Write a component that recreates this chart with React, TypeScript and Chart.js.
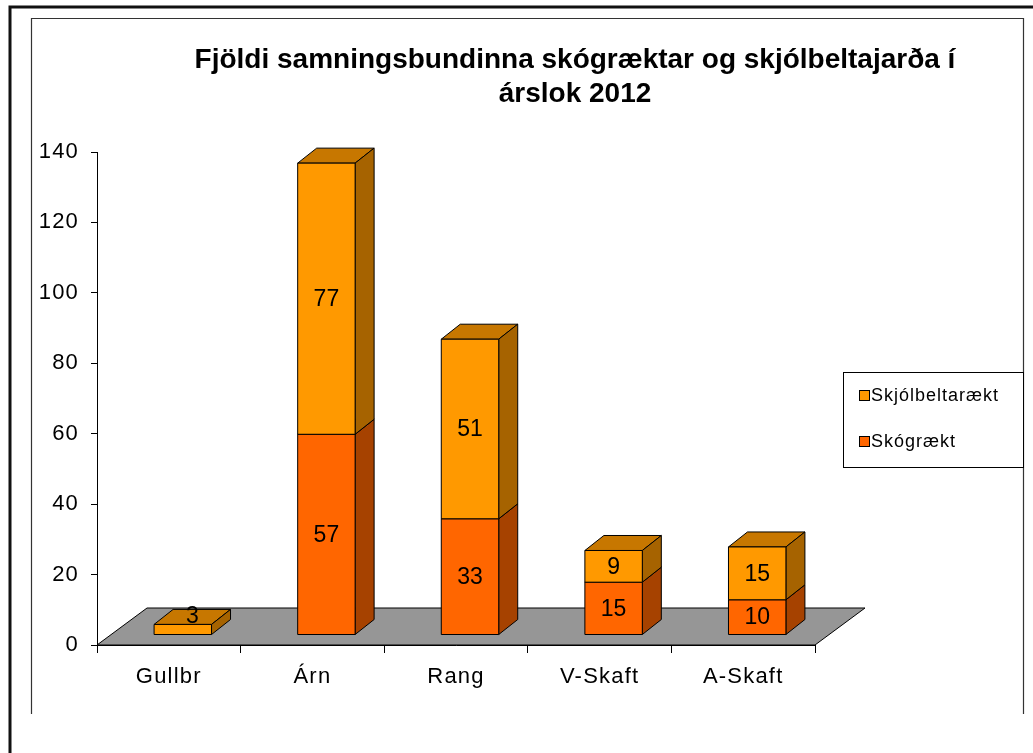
import React, { useEffect, useRef } from "react";
import { Chart, registerables } from "chart.js";

Chart.register(...registerables);

const categories = ["Gullbr", "Árn", "Rang", "V-Skaft", "A-Skaft"];
const seriesNames = ["Skógrækt", "Skjólbeltarækt"];
const skograektValues = [0, 57, 33, 15, 10];
const skjolbeltaValues = [3, 77, 51, 9, 15];
const yTickValues = [0, 20, 40, 60, 80, 100, 120, 140];
const titleLines = [
  "Fjöldi samningsbundinna skógræktar og skjólbeltajarða í",
  "árslok 2012",
];

const FONT = "'Liberation Sans', Arial, sans-serif";
const FRONT = ["#FF6600", "#FF9900"];
const SIDE = ["#A64200", "#A66300"];
const TOP = ["#C75200", "#C77700"];

// projection constants (pixels)
const SHIFT_X = 14;
const SHIFT_Y = -10;
const BAR_DX = 19;
const BAR_DY = -15;
const FLOOR_DX = 50;
const FLOOR_DY = -37;

const W = 1033;
const H = 753;

function poly(ctx: CanvasRenderingContext2D, pts: number[][], fill: string) {
  ctx.beginPath();
  ctx.moveTo(pts[0][0], pts[0][1]);
  for (let i = 1; i < pts.length; i++) ctx.lineTo(pts[i][0], pts[i][1]);
  ctx.closePath();
  ctx.fillStyle = fill;
  ctx.fill();
  ctx.stroke();
}

const threeD = {
  id: "threeD",
  beforeDraw(chart: any) {
    const ctx: CanvasRenderingContext2D = chart.ctx;
    ctx.save();
    ctx.fillStyle = "#ffffff";
    ctx.fillRect(0, 0, W, H);
    // outer frame
    ctx.strokeStyle = "#111";
    ctx.lineWidth = 3;
    ctx.beginPath();
    ctx.moveTo(10, H);
    ctx.lineTo(10, 7);
    ctx.lineTo(W, 7);
    ctx.stroke();
    // inner frame
    ctx.strokeStyle = "#333";
    ctx.lineWidth = 1.2;
    ctx.beginPath();
    ctx.moveTo(31.5, 714);
    ctx.lineTo(31.5, 18.5);
    ctx.lineTo(1023.5, 18.5);
    ctx.lineTo(1023.5, 714);
    ctx.stroke();
    ctx.restore();
    (ctx as any).letterSpacing = "1.2px";
  },
  beforeDatasetsDraw(chart: any) {
    const ctx: CanvasRenderingContext2D = chart.ctx;
    const xs = chart.scales.x;
    const ys = chart.scales.y;
    const y0 = ys.getPixelForValue(0);
    ctx.save();
    ctx.strokeStyle = "#000";
    ctx.lineWidth = 1;
    poly(
      ctx,
      [
        [xs.left, y0],
        [xs.left + FLOOR_DX, y0 + FLOOR_DY],
        [xs.right + FLOOR_DX, y0 + FLOOR_DY],
        [xs.right, y0],
      ],
      "#969696"
    );
    ctx.restore();
  },
  afterDatasetsDraw(chart: any) {
    const ctx: CanvasRenderingContext2D = chart.ctx;
    ctx.save();
    ctx.strokeStyle = "#000";
    ctx.lineWidth = 1;
    ctx.lineJoin = "round";
    const labels: { x: number; y: number; t: string }[] = [];
    for (let i = 0; i < categories.length; i++) {
      for (let d = 0; d < 2; d++) {
        const meta = chart.getDatasetMeta(d);
        const bar = meta.data[i];
        const v = chart.data.datasets[d].data[i];
        if (!v) continue;
        const p = bar.getProps(["x", "y", "base", "width"], true);
        const xl = p.x - p.width / 2 + SHIFT_X;
        const xr = p.x + p.width / 2 + SHIFT_X;
        const yt = p.y + SHIFT_Y;
        const yb = p.base + SHIFT_Y;
        poly(ctx, [[xl, yt], [xr, yt], [xr + BAR_DX, yt + BAR_DY], [xl + BAR_DX, yt + BAR_DY]], TOP[d]);
        poly(ctx, [[xr, yt], [xr + BAR_DX, yt + BAR_DY], [xr + BAR_DX, yb + BAR_DY], [xr, yb]], SIDE[d]);
        poly(ctx, [[xl, yt], [xr, yt], [xr, yb], [xl, yb]], FRONT[d]);
        if (yb - yt >= 22) {
          labels.push({ x: (xl + xr) / 2, y: (yt + yb) / 2 + 1, t: String(v) });
        } else {
          labels.push({ x: (xl + xr) / 2 + BAR_DX / 2, y: yt + BAR_DY / 2, t: String(v) });
        }
      }
    }
    ctx.fillStyle = "#000";
    ctx.font = `23px ${FONT}`;
    ctx.textAlign = "center";
    ctx.textBaseline = "middle";
    (ctx as any).letterSpacing = "0px";
    for (const l of labels) ctx.fillText(l.t, l.x, l.y);
    ctx.restore();
  },
  afterDraw(chart: any) {
    const ctx: CanvasRenderingContext2D = chart.ctx;
    ctx.save();
    // title
    ctx.fillStyle = "#000";
    ctx.font = `bold 28px ${FONT}`;
    ctx.textAlign = "center";
    ctx.textBaseline = "middle";
    (ctx as any).letterSpacing = "0px";
    ctx.fillText(titleLines[0], 575, 60);
    ctx.fillText(titleLines[1], 575, 94);
    // legend
    ctx.strokeStyle = "#000";
    ctx.lineWidth = 1;
    ctx.fillStyle = "#fff";
    ctx.fillRect(843.5, 372.5, 180, 95);
    ctx.strokeRect(843.5, 372.5, 180, 95);
    const items = [
      { name: seriesNames[1], color: FRONT[1], y: 396 },
      { name: seriesNames[0], color: FRONT[0], y: 442 },
    ];
    ctx.font = `18px ${FONT}`;
    ctx.textAlign = "left";
    (ctx as any).letterSpacing = "1px";
    for (const it of items) {
      ctx.fillStyle = it.color;
      ctx.fillRect(859.5, it.y - 5.5, 10, 10);
      ctx.strokeRect(859.5, it.y - 5.5, 10, 10);
      ctx.fillStyle = "#000";
      ctx.fillText(it.name, 871, it.y);
    }
    ctx.restore();
  },
};

export default function App() {
  const ref = useRef<HTMLCanvasElement>(null);
  useEffect(() => {
    if (!ref.current) return;
    const chart = new Chart(ref.current, {
      type: "bar",
      data: {
        labels: categories,
        datasets: [
          {
            label: seriesNames[0],
            data: skograektValues,
            backgroundColor: "rgba(0,0,0,0)",
            borderWidth: 0,
            barPercentage: 0.4,
            categoryPercentage: 1,
          },
          {
            label: seriesNames[1],
            data: skjolbeltaValues,
            backgroundColor: "rgba(0,0,0,0)",
            borderWidth: 0,
            barPercentage: 0.4,
            categoryPercentage: 1,
          },
        ],
      },
      options: {
        responsive: false,
        animation: false,
        events: [],
        layout: { padding: { left: 0, top: 152, right: W - 815, bottom: 0 } },
        plugins: {
          legend: { display: false },
          title: { display: false },
          tooltip: { enabled: false },
        },
        scales: {
          x: {
            stacked: true,
            grid: {
              display: true,
              drawOnChartArea: false,
              drawTicks: true,
              tickLength: 8,
              color: "#000",
              offset: true,
            },
            border: { display: true, color: "#000", width: 1 },
            ticks: {
              color: "#000",
              padding: 11,
              font: { family: FONT, size: 22 },
            },
            afterFit: (s: any) => {
              s.height = H - 645;
            },
          },
          y: {
            stacked: true,
            min: 0,
            max: 140,
            afterBuildTicks: (s: any) => {
              s.ticks = yTickValues.map((v) => ({ value: v }));
            },
            grid: {
              display: true,
              drawOnChartArea: false,
              drawTicks: true,
              tickLength: 6,
              color: "#000",
            },
            border: { display: true, color: "#000", width: 1 },
            ticks: {
              color: "#000",
              padding: 12,
              font: { family: FONT, size: 22 },
            },
            afterFit: (s: any) => {
              s.width = 97;
            },
          },
        },
      },
      plugins: [threeD],
    });
    return () => chart.destroy();
  }, []);
  return (
    <div style={{ position: "absolute", left: 0, top: 0, width: W, height: H }}>
      <canvas ref={ref} width={W} height={H} style={{ display: "block", width: W, height: H }} />
    </div>
  );
}
